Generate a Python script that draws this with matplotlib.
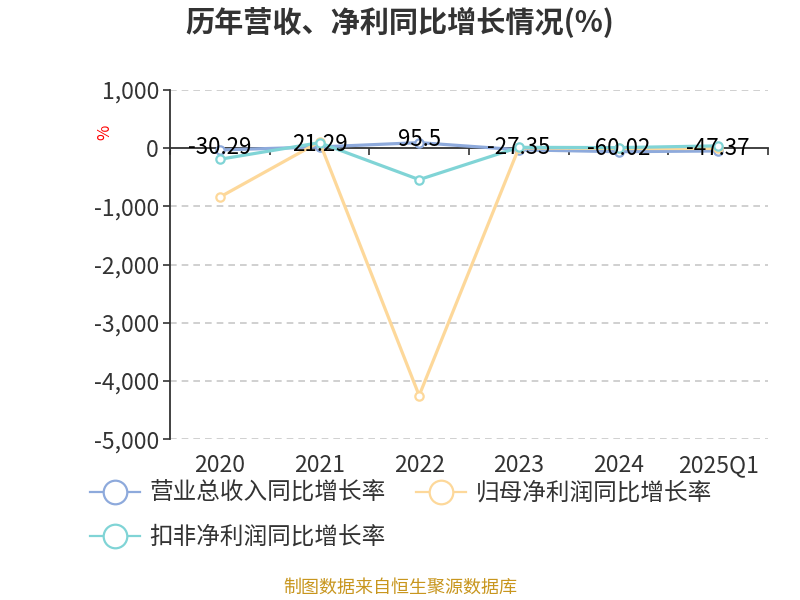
import numpy as np
import matplotlib
matplotlib.use("Agg")
import matplotlib.pyplot as plt
import matplotlib.transforms as mtransforms
from matplotlib.lines import Line2D

plt.rcParams["font.family"] = ["Noto Sans CJK SC", "DejaVu Sans"]

# ── data ────────────────────────────────────────────────────────────────────
years = ["2020", "2021", "2022", "2023", "2024", "2025Q1"]
revenue_growth = [-30.29, 21.29, 95.5, -27.35, -60.02, -47.37]
net_profit_growth = [-840, 110, -4250, 5, -5, -5]
deducted_profit_growth = [-190, 95, -540, 15, 10, 40]

series = [
    ("营业总收入同比增长率", revenue_growth, "#8eaadc"),
    ("归母净利润同比增长率", net_profit_growth, "#fdd89a"),
    ("扣非净利润同比增长率", deducted_profit_growth, "#80d4d6"),
]

fig = plt.figure(figsize=(8, 6), dpi=100)
ax = fig.add_axes([0.2125, 0.268, 0.7475, 0.582])

x = np.arange(len(years))
handles = []
for name, vals, col in series:
    ax.plot(x, vals, color=col, lw=2.3, marker="o", ms=6,
            mfc="white", mec=col, mew=1.6, zorder=3)
    handles.append(Line2D([], [], color=col, lw=1.6, marker="o", ms=17,
                          mfc="white", mec=col, mew=1.6))

# data labels on the revenue series
for xi, v in zip(x, revenue_growth):
    ax.annotate(f"{v:g}", (xi, v), xytext=(0, 2), textcoords="offset points",
                ha="center", va="center", fontsize=16, color="black", zorder=4)

ax.set_xlim(-0.5, len(years) - 0.5)
ax.set_ylim(-5000, 1000)
yt = np.arange(-5000, 1001, 1000)
ax.set_yticks(yt)
ax.set_yticklabels([f"{v:,}" for v in yt], fontsize=16.5, color="#333333")
for v in yt:
    if v != 0:
        ax.axhline(v, color="#c8c8c8", lw=1.2, ls=(0, (4, 3)), zorder=1)

for s in ["top", "right"]:
    ax.spines[s].set_visible(False)
ax.spines["left"].set_color("#333333")
ax.spines["left"].set_linewidth(1.3)
ax.spines["bottom"].set_position(("data", 0))
ax.spines["bottom"].set_color("#333333")
ax.spines["bottom"].set_linewidth(1.3)
ax.set_xticks(np.arange(len(years) + 1) - 0.5)
ax.tick_params(axis="x", labelbottom=False, length=5, width=1.2, color="#333333")
ax.tick_params(axis="y", length=5, width=1.2, color="#333333", pad=3)

trans = mtransforms.blended_transform_factory(ax.transData, ax.transAxes)
for xi, lab in zip(x, years):
    ax.text(xi, -0.075, lab, transform=trans, ha="center", va="center",
            fontsize=16.5, color="#333333")

fig.text(0.131, 0.78, "%", color="red", fontsize=12, rotation=90,
         ha="center", va="center")

fig.text(0.5, 0.962, "历年营收、净利同比增长情况(%)", ha="center", va="center",
         fontsize=21, fontweight="bold", color="#333333")

order = [0, 2, 1]
fig.legend([handles[i] for i in order], [series[i][0] for i in order],
           loc="upper left", bbox_to_anchor=(0.113, 0.197), ncol=2,
           frameon=False, fontsize=17, handlelength=2.1, handletextpad=0.4,
           columnspacing=1.3, labelspacing=0.9, labelcolor="#333333",
           borderaxespad=0, borderpad=0)

fig.text(0.5, 0.02, "制图数据来自恒生聚源数据库", ha="center", va="center",
         fontsize=13, color="#c8961e")

fig.savefig("out.png", dpi=100)
